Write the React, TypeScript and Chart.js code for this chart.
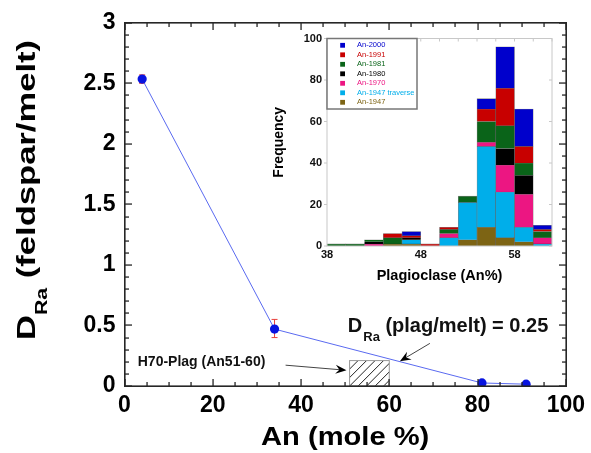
import React, { useEffect, useRef } from "react";
import { Chart, registerables } from "chart.js";

Chart.register(...registerables);

const FONT = "'Liberation Sans', Arial, Helvetica, sans-serif";

// ---------- Main chart data ----------
const anMole = [4, 34, 81, 91];
const dRa = [2.535, 0.47, 0.025, 0.015];
const dRaErrLow = [2.5, 0.4, 0.015, 0.008];
const dRaErrHigh = [2.57, 0.55, 0.035, 0.022];
const xTickValues = [0, 20, 40, 60, 80, 100];
const yTickValues = [0, 0.5, 1, 1.5, 2, 2.5, 3];
const xMinorStep = 5;
const yMinorStep = 0.1;
const h70Range = [51, 60];
const h70Top = 0.21;

// ---------- Inset histogram data ----------
const binCenters = [39, 41, 43, 45, 47, 49, 51, 53, 55, 57, 59, 61];
const insetXTickValues = [38, 48, 58];
const insetYTickValues = [0, 20, 40, 60, 80, 100];
const an1947 = [0, 0, 0, 1, 1, 0, 0, 3, 9, 4, 2, 0];
const an1947traverse = [0, 0, 0, 0, 2, 0, 4, 18, 39, 22, 7, 1];
const an1970 = [0, 0, 1, 0, 0, 0, 2, 0, 2, 13, 16, 3];
const an1980 = [0, 0, 1, 0, 1, 0, 0, 0, 0, 8, 9, 0];
const an1981 = [1, 1, 1, 3, 0, 0, 2, 3, 10, 11, 6, 3];
const an1991 = [0, 0, 0, 2, 1, 1, 1, 0, 6, 18, 8, 1];
const an2000 = [0, 0, 0, 0, 2, 0, 0, 0, 5, 20, 18, 2];

const seriesLabels = ["An-1947", "An-1947 traverse", "An-1970", "An-1980", "An-1981", "An-1991", "An-2000"];
const seriesValues = [an1947, an1947traverse, an1970, an1980, an1981, an1991, an2000];
const seriesColors = ["#7d6414", "#00aeea", "#ec1682", "#000000", "#0a6419", "#c80000", "#0000cc"];

function drawArrow(ctx: CanvasRenderingContext2D, x1: number, y1: number, x2: number, y2: number) {
  const ang = Math.atan2(y2 - y1, x2 - x1);
  const len = 11;
  const hw = 4.5;
  ctx.save();
  ctx.strokeStyle = "#444";
  ctx.lineWidth = 1;
  ctx.beginPath();
  ctx.moveTo(x1, y1);
  ctx.lineTo(x2 - Math.cos(ang) * len * 0.6, y2 - Math.sin(ang) * len * 0.6);
  ctx.stroke();
  ctx.translate(x2, y2);
  ctx.rotate(ang);
  ctx.fillStyle = "#000";
  ctx.beginPath();
  ctx.moveTo(0, 0);
  ctx.lineTo(-len, -hw);
  ctx.lineTo(-len * 0.65, 0);
  ctx.lineTo(-len, hw);
  ctx.closePath();
  ctx.fill();
  ctx.restore();
}

function drawFrame(ctx: CanvasRenderingContext2D, chart: any) {
  const ca = chart.chartArea;
  const sx = chart.scales.x;
  const sy = chart.scales.y;
  const L = Math.round(ca.left), R = Math.round(ca.right), T = Math.round(ca.top), B = Math.round(ca.bottom);
  ctx.save();
  ctx.setTransform(1, 0, 0, 1, 0, 0);
  ctx.fillStyle = "#262626";
  ctx.fillRect(L - 1, T - 1, R - L + 2, 1.6);
  ctx.fillRect(L - 1, B - 0.6, R - L + 2, 1.6);
  ctx.fillRect(L - 1, T - 1, 1.6, B - T + 2);
  ctx.fillRect(R - 0.6, T - 1, 1.6, B - T + 2);
  const nx = Math.round((sx.max - sx.min) / xMinorStep);
  for (let i = 0; i <= nx; i++) {
    const v = sx.min + i * xMinorStep;
    const p = Math.round(sx.getPixelForValue(v));
    const len = xTickValues.includes(v) ? 7 : 4;
    ctx.fillRect(p - 0.6, B - len, 1.3, len);
    ctx.fillRect(p - 0.6, T, 1.3, len);
  }
  const ny = Math.round((sy.max - sy.min) / yMinorStep);
  for (let i = 0; i <= ny; i++) {
    const v = sy.min + i * yMinorStep;
    const p = Math.round(sy.getPixelForValue(v));
    const len = i % 5 === 0 ? 7 : 4;
    ctx.fillRect(L, p - 0.6, len, 1.3);
    ctx.fillRect(R - len, p - 0.6, len, 1.3);
  }
  ctx.restore();
}

const mainDecoPlugin = {
  id: "mainDeco",
  beforeDatasetsDraw(chart: any) {
    const ctx: CanvasRenderingContext2D = chart.ctx;
    const sx = chart.scales.x;
    const sy = chart.scales.y;
    ctx.save();
    ctx.strokeStyle = "#e8403c";
    ctx.lineWidth = 1;
    anMole.forEach((xv, i) => {
      const p = sx.getPixelForValue(xv);
      const lo = sy.getPixelForValue(dRaErrLow[i]);
      const hi = sy.getPixelForValue(dRaErrHigh[i]);
      ctx.beginPath();
      ctx.moveTo(p, lo); ctx.lineTo(p, hi);
      ctx.moveTo(p - 3, lo); ctx.lineTo(p + 3, lo);
      ctx.moveTo(p - 3, hi); ctx.lineTo(p + 3, hi);
      ctx.stroke();
    });
    ctx.restore();
    const l = sx.getPixelForValue(h70Range[0]);
    const r = sx.getPixelForValue(h70Range[1]);
    const t = sy.getPixelForValue(h70Top);
    const b = sy.getPixelForValue(0);
    ctx.save();
    ctx.beginPath();
    ctx.rect(l, t, r - l, b - t);
    ctx.clip();
    ctx.strokeStyle = "#222";
    ctx.lineWidth = 1;
    const h = b - t;
    for (let s = l - h; s < r + h; s += 8.5) {
      ctx.beginPath();
      ctx.moveTo(s, b);
      ctx.lineTo(s + h, t);
      ctx.stroke();
    }
    ctx.restore();
    ctx.save();
    ctx.strokeStyle = "#999";
    ctx.lineWidth = 1;
    ctx.strokeRect(l, t, r - l, b - t);
    ctx.restore();
  },
  afterDraw(chart: any) {
    const ctx: CanvasRenderingContext2D = chart.ctx;
    const ca = chart.chartArea;
    const sx = chart.scales.x;
    const sy = chart.scales.y;
    const px = (v: number) => sx.getPixelForValue(v);
    const py = (v: number) => sy.getPixelForValue(v);
    ctx.save();
    ctx.fillStyle = "#111";
    ctx.textBaseline = "alphabetic";
    ctx.textAlign = "left";
    ctx.font = `bold 14px ${FONT}`;
    ctx.fillText("H70-Plag (An51-60)", px(3.0), py(0.165));
    drawArrow(ctx, px(36.5), py(0.172), px(50.3), py(0.13));
    let tx = px(50.6);
    const ty = py(0.445);
    ctx.font = `bold 20px ${FONT}`;
    ctx.fillText("D", tx, ty);
    tx += ctx.measureText("D").width + 1;
    ctx.font = `bold 13px ${FONT}`;
    ctx.fillText("Ra", tx, ty + 9);
    tx += ctx.measureText("Ra").width;
    ctx.font = `bold 20px ${FONT}`;
    ctx.fillText(" (plag/melt) = 0.25", tx, ty);
    drawArrow(ctx, px(69.2), py(0.352), px(62.4), py(0.205));
    ctx.restore();

    ctx.save();
    ctx.fillStyle = "#000";
    ctx.textBaseline = "alphabetic";
    ctx.textAlign = "center";
    ctx.font = `bold 26px ${FONT}`;
    ctx.translate((ca.left + ca.right) / 2, ca.bottom + 59);
    ctx.scale(1.12, 1);
    ctx.fillText("An (mole %)", 0, 0);
    ctx.restore();

    ctx.save();
    ctx.fillStyle = "#000";
    ctx.textBaseline = "alphabetic";
    ctx.textAlign = "left";
    ctx.translate(ca.left - 89.5, ca.bottom - 46);
    ctx.rotate(-Math.PI / 2);
    ctx.scale(1.33, 1);
    let lx = 0;
    ctx.font = `bold 26px ${FONT}`;
    ctx.fillText("D", lx, 0);
    lx += ctx.measureText("D").width;
    ctx.font = `bold 16px ${FONT}`;
    ctx.fillText("Ra", lx, 12);
    lx += ctx.measureText("Ra").width;
    ctx.font = `bold 26px ${FONT}`;
    ctx.fillText(" (feldspar/melt)", lx, 0);
    ctx.restore();

    drawFrame(ctx, chart);
  },
};

const insetPlugin = {
  id: "insetDeco",
  afterDraw(chart: any) {
    const ctx: CanvasRenderingContext2D = chart.ctx;
    const ca = chart.chartArea;
    const sx = chart.scales.x;
    const sy = chart.scales.y;
    ctx.save();
    ctx.strokeStyle = "#c8c8c8";
    ctx.lineWidth = 1;
    ctx.strokeRect(ca.left, ca.top, ca.right - ca.left, ca.bottom - ca.top);
    ctx.beginPath();
    for (let v = sx.min; v <= sx.max; v += 2) {
      const p = sx.getPixelForValue(v);
      ctx.moveTo(p, ca.top); ctx.lineTo(p, ca.top + 3);
    }
    insetYTickValues.forEach((v) => {
      const p = sy.getPixelForValue(v);
      ctx.moveTo(ca.right, p); ctx.lineTo(ca.right - 3, p);
      ctx.moveTo(ca.left - 3, p); ctx.lineTo(ca.left, p);
    });
    ctx.stroke();
    ctx.restore();

    const bx = ca.left, by = ca.top, bw = 90, bh = 70.5;
    ctx.save();
    ctx.fillStyle = "#fff";
    ctx.fillRect(bx, by, bw, bh);
    ctx.strokeStyle = "#777";
    ctx.lineWidth = 1.5;
    ctx.strokeRect(bx, by, bw, bh);
    ctx.font = `7.5px ${FONT}`;
    ctx.textBaseline = "middle";
    ctx.textAlign = "left";
    const n = chart.data.datasets.length;
    for (let k = 0; k < n; k++) {
      const ds = chart.data.datasets[n - 1 - k];
      const cy = by + 6.8 + k * 9.5;
      ctx.fillStyle = ds.backgroundColor;
      ctx.fillRect(bx + 13.2, cy - 2.4, 4.8, 4.8);
      ctx.fillText(ds.label, bx + 30, cy);
    }
    ctx.restore();

    ctx.save();
    ctx.fillStyle = "#000";
    ctx.font = `bold 14.5px ${FONT}`;
    ctx.textAlign = "center";
    ctx.textBaseline = "middle";
    ctx.fillText("Plagioclase (An%)", (ca.left + ca.right) / 2, ca.bottom + 30);
    ctx.translate(ca.left - 48, (ca.top + ca.bottom) / 2);
    ctx.rotate(-Math.PI / 2);
    ctx.font = `bold 14px ${FONT}`;
    ctx.fillText("Frequency", 0, 0);
    ctx.restore();
  },
};

export default function App() {
  const mainRef = useRef<HTMLCanvasElement>(null);
  const insetRef = useRef<HTMLCanvasElement>(null);

  useEffect(() => {
    document.body.style.margin = "0";
    document.body.style.overflow = "hidden";
    const tickFont = { family: FONT, size: 23, weight: "bold" as const };
    const main = new Chart(mainRef.current!, {
      type: "scatter",
      data: {
        datasets: [
          {
            data: anMole.map((xv, i) => ({ x: xv, y: dRa[i] })),
            showLine: true,
            borderColor: "#5a6af0",
            borderWidth: 1,
            pointRadius: 4.6,
            pointBackgroundColor: "#0814e0",
            pointBorderColor: "#0814e0",
            pointBorderWidth: 0,
          },
        ],
      },
      options: {
        responsive: false,
        animation: false,
        events: [],
        layout: { padding: { top: 20, right: 21, left: 0, bottom: 0 } },
        plugins: { legend: { display: false }, tooltip: { enabled: false } },
        scales: {
          x: {
            type: "linear",
            min: 0,
            max: 100,
            grid: { display: false, drawTicks: false },
            border: { display: false },
            afterBuildTicks: (s: any) => { s.ticks = xTickValues.map((v) => ({ value: v })); },
            afterFit: (s: any) => { s.height = 67; },
            ticks: { font: tickFont, color: "#000", padding: 6, autoSkip: false, maxRotation: 0, callback: (v: any) => String(v) },
          },
          y: {
            type: "linear",
            min: 0,
            max: 3,
            grid: { display: false, drawTicks: false },
            border: { display: false },
            afterBuildTicks: (s: any) => { s.ticks = yTickValues.map((v) => ({ value: v })); },
            afterFit: (s: any) => { s.width = 124.5; },
            ticks: { font: tickFont, color: "#000", padding: 9, autoSkip: false, callback: (v: any) => String(v) },
          },
        },
      },
      plugins: [mainDecoPlugin],
    });

    const inset = new Chart(insetRef.current!, {
      type: "bar",
      data: {
        datasets: seriesLabels.map((label, k) => ({
          label,
          data: binCenters.map((c, i) => ({ x: c, y: seriesValues[k][i] === 0 ? null : seriesValues[k][i] })),
          backgroundColor: seriesColors[k],
          borderColor: "rgba(30,30,30,0.55)",
          borderWidth: 0.6,
          barPercentage: 1,
          categoryPercentage: 1,
          stack: "s",
        })),
      },
      options: {
        responsive: false,
        animation: false,
        events: [],
        layout: { padding: { top: 38.5, right: 39, left: 270, bottom: 177 } },
        plugins: { legend: { display: false }, tooltip: { enabled: false } },
        scales: {
          x: {
            type: "linear",
            min: 38,
            max: 62,
            offset: false,
            stacked: true,
            grid: { display: false, drawTicks: false },
            border: { display: false },
            afterBuildTicks: (s: any) => { s.ticks = insetXTickValues.map((v) => ({ value: v })); },
            afterFit: (s: any) => { s.height = 30; },
            ticks: { font: { family: FONT, size: 11, weight: "bold" }, color: "#111", padding: 2.5, autoSkip: false, maxRotation: 0, callback: (v: any) => String(v) },
          },
          y: {
            type: "linear",
            min: 0,
            max: 100,
            stacked: true,
            grid: { display: false, drawTicks: false },
            border: { display: false },
            afterBuildTicks: (s: any) => { s.ticks = insetYTickValues.map((v) => ({ value: v })); },
            afterFit: (s: any) => { s.width = 57; },
            ticks: { font: { family: FONT, size: 11, weight: "bold" }, color: "#111", padding: 5, autoSkip: false, callback: (v: any) => String(v) },
          },
        },
      },
      plugins: [insetPlugin],
    });

    return () => {
      main.destroy();
      inset.destroy();
    };
  }, []);

  return (
    <div style={{ position: "relative", width: 591, height: 453, background: "#fff" }}>
      <canvas ref={mainRef} width={591} height={453} style={{ position: "absolute", left: 0, top: 0, display: "block" }} />
      <canvas ref={insetRef} width={591} height={453} style={{ position: "absolute", left: 0, top: 0, display: "block", pointerEvents: "none" }} />
    </div>
  );
}
